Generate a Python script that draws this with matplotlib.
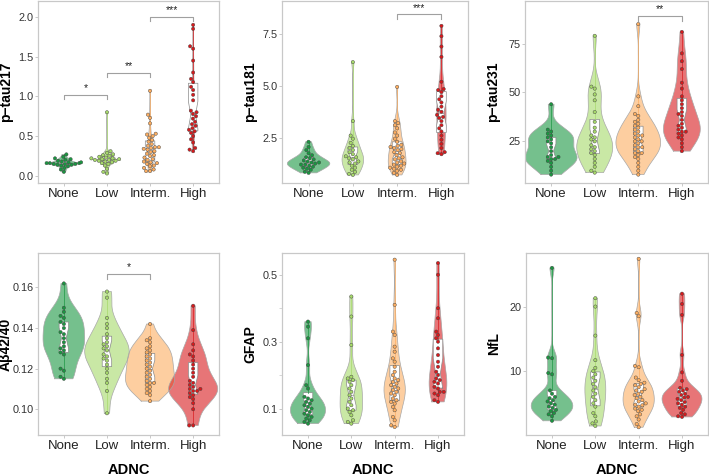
import numpy as np
import pandas as pd
import matplotlib
matplotlib.use("Agg")
import matplotlib.pyplot as plt
import seaborn as sns

plt.rcParams['font.family'] = ['Liberation Sans', 'DejaVu Sans']

groups = ['None', 'Low', 'Interm.', 'High']
palette = ['#1a9641', '#a6d96a', '#fdae61', '#d7191c']

# ---- values (one list per ADNC group) ----
ptau217 = [
    [0.05, 0.08, 0.10, 0.12, 0.13, 0.14, 0.14, 0.15, 0.15, 0.15, 0.16, 0.16,
     0.16, 0.17, 0.17, 0.18, 0.19, 0.20, 0.21, 0.22, 0.24, 0.27],
    [0.03, 0.05, 0.09, 0.13, 0.15, 0.16, 0.17, 0.18, 0.19, 0.19, 0.20, 0.20,
     0.21, 0.21, 0.22, 0.22, 0.23, 0.24, 0.25, 0.26, 0.27, 0.29, 0.31, 0.80],
    [0.06, 0.06, 0.08, 0.10, 0.12, 0.13, 0.15, 0.16, 0.17, 0.18, 0.20, 0.21,
     0.23, 0.25, 0.26, 0.28, 0.30, 0.31, 0.33, 0.34, 0.35, 0.36, 0.36, 0.38,
     0.40, 0.43, 0.45, 0.48, 0.50, 0.52, 0.53, 0.66, 0.73, 0.77, 1.07],
    [0.31, 0.33, 0.35, 0.42, 0.46, 0.50, 0.54, 0.56, 0.58, 0.60, 0.63, 0.65,
     0.68, 0.72, 0.75, 0.78, 0.80, 0.82, 0.95, 1.02, 1.08, 1.12, 1.18, 1.22,
     1.30, 1.45, 1.60, 1.63, 1.85, 1.90],
]
ptau181 = [
    [0.80, 0.85, 0.95, 1.00, 1.05, 1.10, 1.15, 1.20, 1.20, 1.25, 1.30, 1.30,
     1.35, 1.40, 1.45, 1.50, 1.55, 1.65, 1.75, 1.90, 2.05, 2.30],
    [0.70, 0.75, 0.85, 0.95, 1.05, 1.15, 1.25, 1.30, 1.35, 1.45, 1.50, 1.55,
     1.60, 1.70, 1.80, 1.90, 2.00, 2.10, 2.25, 2.45, 2.60, 3.30, 6.15],
    [0.70, 0.80, 0.90, 0.95, 1.00, 1.05, 1.10, 1.15, 1.20, 1.25, 1.30, 1.35,
     1.45, 1.50, 1.55, 1.65, 1.75, 1.80, 1.90, 1.95, 2.00, 2.05, 2.10, 2.15,
     2.30, 2.45, 2.60, 2.75, 2.95, 3.10, 3.20, 3.30, 4.95],
    [1.70, 1.75, 1.80, 2.00, 2.20, 2.40, 2.60, 2.80, 2.95, 3.10, 3.30, 3.45,
     3.50, 3.60, 3.75, 3.85, 4.00, 4.20, 4.35, 4.50, 4.70, 4.80, 4.85, 5.20,
     6.40, 6.90, 7.40, 7.90],
]
ptau231 = [
    [8, 10, 12, 14, 15, 16, 16, 17, 17, 18, 20, 22, 24, 25, 26, 27, 28, 29,
     30, 31, 44],
    [9, 10, 12, 14, 16, 18, 19, 20, 21, 22, 23, 25, 26, 27, 28, 30, 32, 35,
     40, 46, 49, 52, 53, 79],
    [8, 10, 12, 14, 16, 17, 18, 19, 19, 20, 21, 22, 22, 23, 24, 25, 25, 26,
     27, 28, 28, 29, 30, 31, 32, 33, 34, 35, 36, 38, 39, 43, 48, 85],
    [20, 22, 24, 26, 27, 28, 29, 30, 30, 31, 32, 33, 34, 36, 38, 39, 40, 42,
     44, 46, 48, 52, 55, 62, 66, 70, 81],
]
ab4240 = [
    [0.115, 0.116, 0.119, 0.120, 0.127, 0.128, 0.129, 0.130, 0.131, 0.133,
     0.135, 0.137, 0.138, 0.140, 0.142, 0.143, 0.145, 0.146, 0.148, 0.150,
     0.162],
    [0.098, 0.109, 0.113, 0.115, 0.118, 0.120, 0.122, 0.124, 0.125, 0.126,
     0.127, 0.129, 0.130, 0.131, 0.132, 0.133, 0.135, 0.137, 0.140, 0.142,
     0.145, 0.155, 0.158],
    [0.104, 0.107, 0.108, 0.109, 0.110, 0.111, 0.112, 0.113, 0.113, 0.114,
     0.115, 0.116, 0.117, 0.118, 0.119, 0.120, 0.121, 0.122, 0.123, 0.124,
     0.125, 0.126, 0.127, 0.128, 0.129, 0.130, 0.131, 0.133, 0.134, 0.135,
     0.142],
    [0.092, 0.092, 0.100, 0.103, 0.105, 0.106, 0.107, 0.108, 0.109, 0.109,
     0.110, 0.110, 0.111, 0.112, 0.113, 0.114, 0.116, 0.118, 0.120, 0.122,
     0.124, 0.126, 0.127, 0.129, 0.132, 0.139, 0.151],
]
gfap = [
    [0.055, 0.060, 0.065, 0.070, 0.075, 0.080, 0.085, 0.090, 0.095, 0.100,
     0.105, 0.110, 0.115, 0.120, 0.125, 0.130, 0.135, 0.160, 0.170, 0.230,
     0.310, 0.345, 0.360],
    [0.055, 0.060, 0.065, 0.080, 0.090, 0.095, 0.100, 0.110, 0.120, 0.130,
     0.140, 0.150, 0.160, 0.170, 0.180, 0.185, 0.190, 0.195, 0.290, 0.375,
     0.435],
    [0.045, 0.050, 0.065, 0.075, 0.095, 0.105, 0.115, 0.120, 0.125, 0.130,
     0.140, 0.145, 0.150, 0.155, 0.160, 0.165, 0.170, 0.175, 0.180, 0.185,
     0.190, 0.200, 0.210, 0.225, 0.240, 0.250, 0.270, 0.285, 0.320, 0.330,
     0.410, 0.545],
    [0.120, 0.125, 0.140, 0.145, 0.150, 0.150, 0.160, 0.165, 0.175, 0.180,
     0.185, 0.190, 0.200, 0.210, 0.225, 0.240, 0.260, 0.280, 0.300, 0.310,
     0.320, 0.330, 0.370, 0.400, 0.500, 0.535],
]
nfl = [
    [2.3, 3.0, 3.3, 3.5, 3.8, 4.0, 4.3, 4.5, 4.8, 5.0, 5.3, 5.5, 5.8, 6.0,
     6.5, 7.0, 9.5, 9.7, 12.0, 12.1, 26.0],
    [1.5, 1.9, 2.2, 3.0, 3.5, 4.5, 5.0, 5.5, 6.0, 6.5, 7.0, 7.5, 8.0, 8.5,
     9.0, 9.5, 10.0, 10.5, 11.7, 15.5, 20.0, 21.3],
    [1.3, 1.8, 2.5, 3.0, 3.3, 3.8, 4.0, 4.2, 4.5, 4.7, 4.8, 5.0, 5.3, 5.5,
     5.8, 6.0, 6.3, 6.5, 6.8, 7.0, 7.2, 7.5, 7.8, 8.0, 8.2, 8.6, 9.0, 10.6,
     10.8, 18.5, 19.0, 27.4],
    [2.9, 3.0, 3.3, 3.5, 4.0, 4.3, 4.5, 4.8, 5.0, 5.2, 5.5, 5.7, 5.9, 6.0,
     6.3, 6.5, 6.8, 7.0, 7.2, 7.4, 8.5, 9.8, 12.5, 18.7, 20.4, 22.0],
]

labels = ['p\u2212tau217', 'p\u2212tau181', 'p\u2212tau231',
          'A\u03b242/40', 'GFAP', 'NfL']
datasets = [ptau217, ptau181, ptau231, ab4240, gfap, nfl]
yticks = [[0.0, 0.5, 1.0, 1.5, 2.0], [2.5, 5.0, 7.5], [25, 50, 75],
          [0.10, 0.12, 0.14, 0.16], [0.1, 0.3, 0.5], [10, 20]]
yfmt = ['{:.1f}', '{:.1f}', '{:.0f}', '{:.2f}', '{:.1f}', '{:.0f}']
ylims = [(-0.09, 2.2), (0.31, 9.1), (3.7, 96.8),
         (0.0873, 0.177), (0.021, 0.565), (0.1, 28.3)]
# significance brackets: (group a, group b, height, stars)
brackets = [
    [(0, 1, 1.02, '*'), (1, 2, 1.30, '**'), (2, 3, 2.00, '***')],
    [(2, 3, 8.45, '***')],
    [(2, 3, 89, '**')],
    [(1, 2, 0.1665, '*')],
    [],
    [],
]

# axes boxes in pixels: left, top, right, bottom
W, H = 709, 476
boxes = [(38, 1, 219, 183), (282, 1, 468, 183), (525, 1, 708, 183),
         (38, 253, 219, 435), (282, 253, 464, 435), (526, 253, 708, 435)]
max_width = [0.65, 0.96, 1.19, 1.14, 0.81, 0.96]


def kde(vals, grid):
    vals = np.asarray(vals, float)
    n = len(vals)
    iqr = np.subtract(*np.percentile(vals, [75, 25]))
    bw = 0.9 * min(vals.std(ddof=1), iqr / 1.34) * n ** -0.2
    z = (grid[:, None] - vals[None, :]) / bw
    return np.exp(-0.5 * z ** 2).sum(1) / (n * bw * np.sqrt(2 * np.pi))


fig = plt.figure(figsize=(W / 100, H / 100), dpi=100)

for k, data in enumerate(datasets):
    l, t, r, b = boxes[k]
    ax = fig.add_axes([l / W, 1 - b / H, (r - l) / W, (b - t) / H])

    # violins (area-scaled, trimmed to data range)
    dens = []
    for vals in data:
        grid = np.linspace(min(vals), max(vals), 200)
        dens.append((grid, kde(vals, grid)))
    dmax = max(d.max() for _, d in dens)
    for i, (grid, d) in enumerate(dens):
        half = d / dmax * max_width[k] / 2
        ax.fill_betweenx(grid, i - half, i + half, facecolor=palette[i],
                         alpha=0.6, edgecolor='none', zorder=1)
        ax.plot(np.r_[i - half, (i + half)[::-1], i - half[0]],
                np.r_[grid, grid[::-1], grid[0]],
                color='#a8a8a8', lw=0.5, zorder=1.5)

    # notched boxes
    bp = ax.boxplot(data, positions=range(4), notch=True, widths=0.22,
                    patch_artist=True, whis=(0, 100), showfliers=False,
                    showcaps=False, manage_ticks=False, zorder=2)
    for p in bp['boxes']:
        p.set(facecolor='white', edgecolor='#8a8a8a', linewidth=0.5)
    for i, w_ in enumerate(bp['whiskers']):
        w_.set(color=palette[i // 2], linewidth=0.6, alpha=0.8)
    for m in bp['medians']:
        m.set(color='#9a9a9a', linewidth=0.5)

    # points
    df = pd.DataFrame({'ADNC': np.repeat(groups, [len(v) for v in data]),
                       'val': np.concatenate(data)})
    sns.swarmplot(data=df, x='ADNC', y='val', hue='ADNC', order=groups,
                  hue_order=groups, palette=palette, size=2.4,
                  linewidth=0.3, edgecolor='#404040', legend=False,
                  ax=ax, zorder=3, warn_thresh=1)

    # brackets
    for a, c, hgt, stars in brackets[k]:
        tick = (ylims[k][1] - ylims[k][0]) * 0.025
        ax.plot([a, a, c, c], [hgt - tick, hgt, hgt, hgt - tick],
                color='#a0a0a0', lw=0.8, zorder=4)
        ax.text((a + c) / 2, hgt + tick * 0.4, stars, ha='center',
                va='bottom', fontsize=7.5, color='#222222')

    ax.set_xlim(-0.6, 3.6)
    ax.set_ylim(*ylims[k])
    ax.set_xticks(range(4))
    ax.set_xticklabels(groups, fontsize=9.5, color='#222222')
    ax.set_yticks(yticks[k])
    ax.set_yticklabels([yfmt[k].format(v) for v in yticks[k]], fontsize=7.8,
                       color='#333333')
    if k == 4:
        ax.set_yticks([0.2, 0.4], minor=True)
        ax.tick_params(axis='y', which='minor', length=2, color='#d0d0d0',
                       width=0.6)
    ax.tick_params(length=2, color='#c0c0c0', width=0.6, pad=1.2)
    ax.tick_params(axis='x', pad=1.5)
    for s in ax.spines.values():
        s.set_color('#c8c8c8')
        s.set_linewidth(0.9)
    ax.set_ylabel(labels[k], fontsize=10, fontweight='bold')
    ax.yaxis.set_label_coords(-25 / (r - l), 0.5)
    if k >= 3:
        ax.set_xlabel('ADNC', fontsize=10.5, fontweight='bold', labelpad=8)
    else:
        ax.set_xlabel('')
    ax.grid(False)

fig.savefig('out.png', dpi=100)
